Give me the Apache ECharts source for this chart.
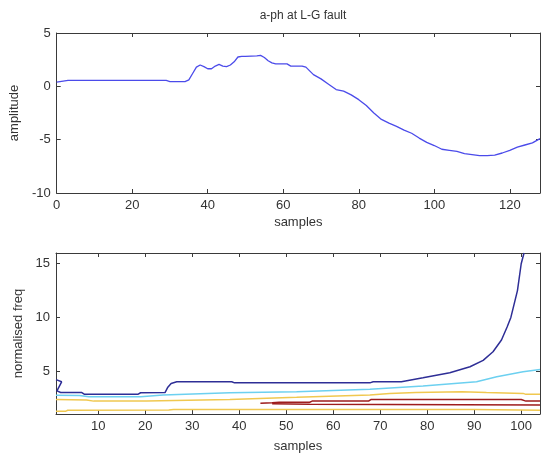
<!DOCTYPE html>
<html>
<head>
<meta charset="utf-8">
<script src="https://cdn.jsdelivr.net/npm/echarts@6/dist/echarts.min.js"></script>
<style>html,body{margin:0;padding:0;background:#fff}#c{width:541px;height:458px}</style>
</head>
<body>
<div id="c"></div>
<script>
// ---- Top plot: a-ph at L-G fault ----
var topSamples = [0,3,29,30,34,35,36,37,38,39,40,41,42,43,44,45,46,47,48,49,50,53,54,55,56,57,58,61,62,65,66,68,70,72,74,76,78,80,82,84,86,88,90,92,94,96,98,100,102,104,106,108,110,112,114,116,118,120,122,124,126,128];
var amplitude  = [0.4,0.55,0.55,0.45,0.45,0.6,1.2,1.8,2.0,1.85,1.65,1.65,1.9,2.05,1.9,1.85,2.0,2.3,2.75,2.8,2.8,2.85,2.9,2.7,2.4,2.2,2.1,2.1,1.9,1.9,1.8,1.1,0.7,0.2,-0.3,-0.45,-0.8,-1.25,-1.8,-2.5,-3.1,-3.45,-3.75,-4.1,-4.4,-4.85,-5.25,-5.55,-5.9,-6.0,-6.1,-6.3,-6.4,-6.5,-6.5,-6.45,-6.25,-6.0,-5.7,-5.5,-5.3,-4.9];
var topXTicks = [0,20,40,60,80,100,120];
var topYTicks = [-10,-5,0,5];

// ---- Bottom plot: contour lines (samples vs normalised freq) ----
var blueX = [1,2.2,1.2,2,6.5,7,18.5,19,24.2,24.8,25.5,26.7,38.4,39,67.8,68.5,74.5,79.1,84.8,89.1,91.9,94,95.8,97,97.8,99.2,100,100.6];
var blueY = [4.2,4.0,3.15,3.0,3.0,2.85,2.85,2.98,3.0,3.5,3.85,4.0,4.0,3.9,3.9,4.0,4.0,4.37,4.84,5.4,6.0,6.8,7.9,9.1,10,12.5,15,16];
var cyanX = [1,6,8,19,23.8,38,52.2,67.8,79.1,90.5,94.8,100.4,104];
var cyanY = [2.75,2.72,2.6,2.6,2.77,2.98,3.07,3.3,3.6,4.0,4.47,4.93,5.15];
var yellowX = [1,7.5,9,20.3,38,52.2,67.8,72,77.6,87.4,92.6,100.4,101,104];
var yellowY = [2.35,2.3,2.2,2.2,2.36,2.55,2.77,2.92,3.0,3.07,3.0,2.92,2.83,2.83];
var redAX = [44.5,47,48.5,55,55.5,67.5,68,100,101,104];
var redAY = [2.0,2.05,2.1,2.1,2.2,2.2,2.35,2.35,2.2,2.2];
var redBX = [47,55,104];
var redBY = [1.95,1.9,1.85];
var yellow2X = [1,3,3.5,25,26,90,104];
var yellow2Y = [1.25,1.25,1.35,1.38,1.42,1.42,1.35];
var botXTicks = [10,20,30,40,50,60,70,80,90,100];
var botYTicks = [5,10,15];

function pairs(xs, ys){ return xs.map(function(x,i){ return [x, ys[i]]; }); }

var FONT = 'Liberation Sans, Arial, sans-serif';
var AX = '#3a3a3a';

function axis(opts){
  var base = {
    type:'value', gridIndex: opts.grid, min: opts.min, max: opts.max,
    position: opts.position,
    axisLine:{show:true, onZero:false, lineStyle:{color:AX, width:1}},
    axisTick:{show:true, inside:true, length:4, customValues: opts.ticks, lineStyle:{color:AX}},
    axisLabel:{show: !!opts.labels, customValues: opts.ticks, color:'#333', fontSize:13, fontFamily:FONT, margin:6},
    splitLine:{show:false}
  };
  if (opts.name){
    base.name = opts.name; base.nameLocation='middle'; base.nameGap = opts.nameGap;
    base.nameTextStyle = {color:'#333', fontSize:13, fontFamily:FONT};
  }
  return base;
}

var chart = echarts.init(document.getElementById('c'), null, {renderer:'canvas'});
chart.setOption({
  backgroundColor:'#ffffff',
  animation:false,
  title:{text:'a-ph at L-G fault', left:298, top:5, textAlign:'center',
    textStyle:{fontSize:12, fontWeight:'normal', color:'#333', fontFamily:FONT}},
  grid:[
    {left:56, top:33, width:484, height:160},
    {left:56, top:253, width:484, height:161}
  ],
  xAxis:[
    axis({grid:0, min:0, max:128, position:'bottom', ticks:topXTicks, labels:true, name:'samples', nameGap:23}),
    axis({grid:0, min:0, max:128, position:'top', ticks:topXTicks}),
    axis({grid:1, min:1, max:104, position:'bottom', ticks:botXTicks, labels:true, name:'samples', nameGap:26}),
    axis({grid:1, min:1, max:104, position:'top', ticks:botXTicks})
  ],
  yAxis:[
    axis({grid:0, min:-10, max:5, position:'left', ticks:topYTicks, labels:true, name:'amplitude', nameGap:30}),
    axis({grid:0, min:-10, max:5, position:'right', ticks:topYTicks}),
    axis({grid:1, min:1, max:16, position:'left', ticks:botYTicks, labels:true, name:'normalised freq', nameGap:30}),
    axis({grid:1, min:1, max:16, position:'right', ticks:botYTicks})
  ],
  series:[
    {type:'line', xAxisIndex:0, yAxisIndex:0, data:pairs(topSamples, amplitude), showSymbol:false, lineStyle:{color:'#4b4bea', width:1.3}},
    {type:'line', xAxisIndex:2, yAxisIndex:2, data:pairs(blueX, blueY), showSymbol:false, lineStyle:{color:'#2e2e96', width:1.5}},
    {type:'line', xAxisIndex:2, yAxisIndex:2, data:pairs(cyanX, cyanY), showSymbol:false, lineStyle:{color:'#6cd0f0', width:1.5}},
    {type:'line', xAxisIndex:2, yAxisIndex:2, data:pairs(yellowX, yellowY), showSymbol:false, lineStyle:{color:'#f0c850', width:1.5}},
    {type:'line', xAxisIndex:2, yAxisIndex:2, data:pairs(redAX, redAY), showSymbol:false, lineStyle:{color:'#9e1c1c', width:1.5}},
    {type:'line', xAxisIndex:2, yAxisIndex:2, data:pairs(redBX, redBY), showSymbol:false, lineStyle:{color:'#9e1c1c', width:1.5}},
    {type:'line', xAxisIndex:2, yAxisIndex:2, data:pairs(yellow2X, yellow2Y), showSymbol:false, lineStyle:{color:'#f0c850', width:1.5}}
  ]
});
</script>
</body>
</html>
